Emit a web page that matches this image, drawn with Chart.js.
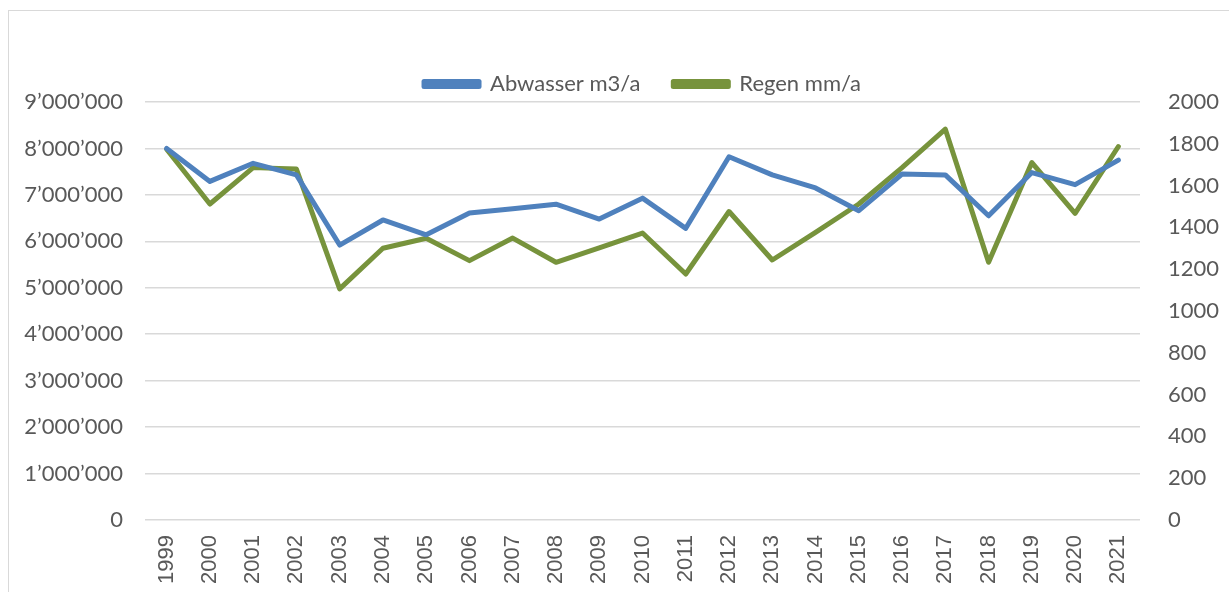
<!DOCTYPE html>
<html>
<head>
<meta charset="utf-8">
<script src="https://cdn.jsdelivr.net/npm/chart.js@4/dist/chart.umd.min.js"></script>
<style>
  html, body { margin: 0; padding: 0; background: #fff; }
  #wrap { position: relative; width: 1229px; height: 592px; overflow: hidden; }
  #frame { position: absolute; left: 8px; top: 10px; width: 1240px; height: 600px; border: 1px solid #d9d9d9; }
  canvas { position: absolute; left: 0; top: 0; }
</style>
</head>
<body>
<div id="wrap">
  <div id="frame"></div>
  <canvas id="myChart" width="1229" height="592"></canvas>
</div>
<script>
const ctx = document.querySelector('#myChart').getContext('2d');

const years = [
    '1999', '2000', '2001', '2002', '2003', '2004', '2005', '2006',
    '2007', '2008', '2009', '2010', '2011', '2012', '2013', '2014',
    '2015', '2016', '2017', '2018', '2019', '2020', '2021',
];

// m3 pro Jahr (linke Achse)
const abwasser = [
    8000000, 7290000, 7680000, 7430000, 5920000, 6460000, 6140000, 6610000,
    6700000, 6800000, 6480000, 6930000, 6280000, 7820000, 7430000, 7150000,
    6660000, 7450000, 7430000, 6550000, 7480000, 7220000, 7750000,
];

// mm pro Jahr (rechte Achse)
const regen = [
    1774, 1512, 1686, 1679, 1106, 1300, 1348, 1241,
    1349, 1233, 1302, 1373, 1177, 1476, 1244, 1376,
    1512, 1686, 1870, 1233, 1710, 1467, 1787,
];

const leftTicks = { min: 0, max: 9000000, step: 1000000 };
const rightTicks = { min: 0, max: 2000, step: 200 };

const tickFont = { family: 'Lato', size: 22 };
const yearFont = { family: 'Liberation Sans', size: 22 };
const grey = '#595959';

const withApostrophe = (v) => String(v).replace(/\B(?=(\d{3})+(?!\d))/g, '\u2019');

// legend sits a bit right of the canvas centre and a little lower in the original
const legendNudge = {
    id: 'legendNudge',
    afterLayout(chart) {
        const lg = chart.legend;
        lg.left += 28; lg.right += 28;
        lg.top += 3; lg.bottom += 3;
    },
};

const data = {
    labels: years,
    datasets: [
        {
            label: 'Abwasser m3/a',
            data: abwasser,
            yAxisID: 'y',
            borderColor: '#4f81bd',
            backgroundColor: '#4f81bd',
        },
        {
            label: 'Regen mm/a',
            data: regen,
            yAxisID: 'y1',
            borderColor: '#77933c',
            backgroundColor: '#77933c',
        },
    ],
};

const config = {
    type: 'line',
    data: data,
    plugins: [legendNudge],
    options: {
        responsive: false,
        animation: false,
        elements: {
            line: { borderWidth: 5, tension: 0, borderJoinStyle: 'round', borderCapStyle: 'round' },
            point: { radius: 0, hoverRadius: 0 },
        },
        layout: { padding: { top: 37, left: 0, right: 0, bottom: 0 } },
        plugins: {
            legend: {
                position: 'top',
                labels: {
                    font: tickFont,
                    color: grey,
                    boxWidth: 55,
                    boxHeight: 5,
                    padding: 33,
                },
            },
            tooltip: { enabled: false },
        },
        scales: {
            x: {
                offset: true,
                grid: { display: false, drawTicks: false },
                border: { display: false },
                ticks: {
                    font: yearFont,
                    color: grey,
                    maxRotation: 90,
                    minRotation: 90,
                    padding: 15,
                    autoSkip: false,
                },
                afterFit: (s) => { s.height = 72; },
            },
            y: {
                position: 'left',
                min: leftTicks.min,
                max: leftTicks.max,
                grid: { color: '#d9d9d9', lineWidth: 1.5, drawTicks: false },
                border: { display: false },
                ticks: {
                    stepSize: leftTicks.step,
                    font: tickFont,
                    color: grey,
                    padding: 22,
                    callback: (v) => withApostrophe(v),
                },
                afterFit: (s) => { s.width = 145; },
            },
            y1: {
                position: 'right',
                min: rightTicks.min,
                max: rightTicks.max,
                grid: { display: false, drawTicks: false },
                border: { display: false },
                ticks: {
                    stepSize: rightTicks.step,
                    font: tickFont,
                    color: grey,
                    padding: 28,
                    callback: (v) => String(v),
                },
                afterFit: (s) => { s.width = 89; },
            },
        },
    },
};

const myChart = new Chart(ctx, config);
</script>
</body>
</html>
